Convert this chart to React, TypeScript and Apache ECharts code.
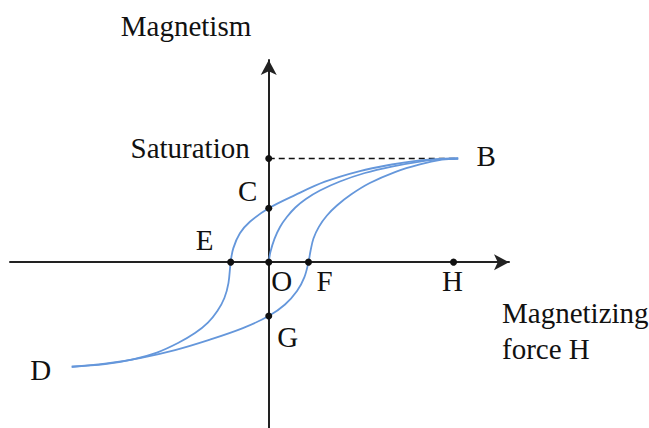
import React, { useEffect, useRef } from "react";
import * as echarts from "echarts";

// ---- Data ----
const SATURATION = 10;
const B_POINT = [10.25, 10];
const D_POINT = [-10.66, -10.09];

// initial magnetisation curve O -> B
const initialX = [0, 0.09, 0.31, 0.61, 0.98, 1.44, 2.01, 2.77, 3.85, 5.2, 6.66, 8.18, 9.37, 10.25];
const initialY = [0, 0.97, 2.24, 3.39, 4.35, 5.27, 6.09, 6.91, 7.78, 8.6, 9.22, 9.7, 9.93, 10.0];

// upper (descending) branch B -> C -> E -> D
const upperX = [10.25, 9.26, 8.07, 6.66, 4.93, 3.04, 1.42, 0, -1.02, -1.56, -1.92, -2.06, -2.18, -2.4, -2.78, -3.29, -3.99, -4.91, -6.05, -7.4, -8.86, -10.66];
const upperY = [10.0, 9.97, 9.8, 9.42, 8.79, 7.76, 6.47, 5.2, 3.9, 2.78, 1.33, 0, -2.02, -3.46, -4.72, -5.83, -6.84, -7.8, -8.72, -9.4, -9.83, -10.09];

// lower (ascending) branch D -> G -> F -> B
const lowerX = [-10.66, -8.86, -6.97, -5.07, -3.18, -1.4, 0, 0.88, 1.53, 1.93, 2.15, 2.26, 2.42, 2.72, 3.15, 3.69, 4.45, 5.47, 6.83, 8.18, 9.37, 10.25];
const lowerY = [-10.09, -9.8, -9.25, -8.48, -7.47, -6.36, -5.2, -4.09, -2.79, -1.44, 0, 1.07, 2.28, 3.43, 4.5, 5.46, 6.52, 7.63, 8.69, 9.43, 9.88, 10.0];

// marked points
const pointNames = ["Saturation", "C", "E", "O", "F", "H", "G"];
const pointX = [0, 0, -2.06, 0, 2.15, 10, 0];
const pointY = [SATURATION, 5.2, 0, 0, 0, 0, -5.2];

// end labels (no dot)
const endNames = ["B", "D"];
const endX = [B_POINT[0], D_POINT[0]];
const endY = [B_POINT[1], D_POINT[1]];

const axisTitleY = "Magnetism";
const axisTitleX = ["Magnetizing", "force H"];

// ---- styling ----
const FONT = "'Liberation Serif', 'Times New Roman', serif";
const FS = 29;
const TEXT = "#111111";
const CURVE = "#6597db";

const labelStyle: Record<string, any> = {
  Saturation: { offset: [-19, -10], align: "right" },
  C: { offset: [-21, -17], align: "center" },
  E: { offset: [-26, -22], align: "center" },
  O: { offset: [13, 19], align: "center" },
  F: { offset: [16, 19], align: "center" },
  H: { offset: [-1, 19], align: "center" },
  G: { offset: [19, 21], align: "center" },
  B: { offset: [28, -2], align: "center" },
  D: { offset: [-31, 3], align: "center" },
};

const zip = (xs: number[], ys: number[]) => xs.map((x, i) => [x, ys[i]]);

export default function App() {
  const ref = useRef<HTMLDivElement>(null);

  useEffect(() => {
    document.body.style.margin = "0";
    const chart = echarts.init(ref.current!, null, { renderer: "svg" });

    const curveSeries = (name: string, xs: number[], ys: number[]) => ({
      type: "line",
      name,
      data: zip(xs, ys),
      smooth: 0.35,
      showSymbol: false,
      symbol: "none",
      lineStyle: { color: CURVE, width: 1.8 },
      silent: true,
      z: 3,
    });

    const mkLabel = (n: string) => ({
      show: true,
      position: "inside",
      formatter: "{b}",
      color: TEXT,
      opacity: 1,
      textBorderWidth: 0,
      fontSize: FS,
      fontFamily: FONT,
      verticalAlign: "middle",
      ...labelStyle[n],
    });

    const option: any = {
      animation: false,
      textStyle: { fontFamily: FONT },
      grid: { left: 10, right: 140, top: 60, bottom: 0, containLabel: false, outerBoundsMode: "none" },
      xAxis: {
        type: "value",
        min: -14,
        max: 13,
        axisLine: {
          show: true,
          onZero: true,
          symbol: ["none", "arrow"],
          symbolSize: [12, 15],
          lineStyle: { color: "#222", width: 2 },
        },
        axisTick: { show: false },
        axisLabel: { show: false },
        splitLine: { show: false },
      },
      yAxis: {
        type: "value",
        min: -16,
        max: 19.5,
        axisLine: {
          show: true,
          onZero: true,
          symbol: ["none", "arrow"],
          symbolSize: [12, 15],
          lineStyle: { color: "#222", width: 2 },
        },
        axisTick: { show: false },
        axisLabel: { show: false },
        splitLine: { show: false },
      },
      graphic: [
        {
          type: "text",
          x: 186,
          y: 26,
          style: { text: axisTitleY, fontSize: FS, fontFamily: FONT, fill: TEXT, align: "center", verticalAlign: "middle" },
        },
        {
          type: "text",
          x: 502,
          y: 313,
          style: { text: axisTitleX[0], fontSize: FS, fontFamily: FONT, fill: TEXT, align: "left", verticalAlign: "middle" },
        },
        {
          type: "text",
          x: 502,
          y: 349,
          style: { text: axisTitleX[1], fontSize: FS, fontFamily: FONT, fill: TEXT, align: "left", verticalAlign: "middle" },
        },
      ],
      series: [
        {
          type: "line",
          name: "saturation-line",
          data: [[0, SATURATION], [B_POINT[0], SATURATION]],
          showSymbol: false,
          symbol: "none",
          lineStyle: { color: "#111", width: 1.5, type: [6, 4] },
          silent: true,
          z: 2,
        },
        curveSeries("initial", initialX, initialY),
        curveSeries("upper", upperX, upperY),
        curveSeries("lower", lowerX, lowerY),
        {
          type: "scatter",
          name: "points",
          symbolSize: 7,
          itemStyle: { color: "#111", opacity: 1 },
          silent: true,
          z: 5,
          data: pointNames.map((n, i) => ({ name: n, value: [pointX[i], pointY[i]], label: mkLabel(n) })),
        },
        {
          type: "scatter",
          name: "ends",
          symbolSize: 1,
          itemStyle: { color: "rgba(0,0,0,0)", opacity: 1 },
          silent: true,
          z: 5,
          data: endNames.map((n, i) => ({ name: n, value: [endX[i], endY[i]], label: mkLabel(n) })),
        },
      ],
    };

    chart.setOption(option);
    return () => chart.dispose();
  }, []);

  return <div ref={ref} style={{ position: "absolute", left: 0, top: 0, width: 649, height: 428, background: "#fff" }} />;
}
